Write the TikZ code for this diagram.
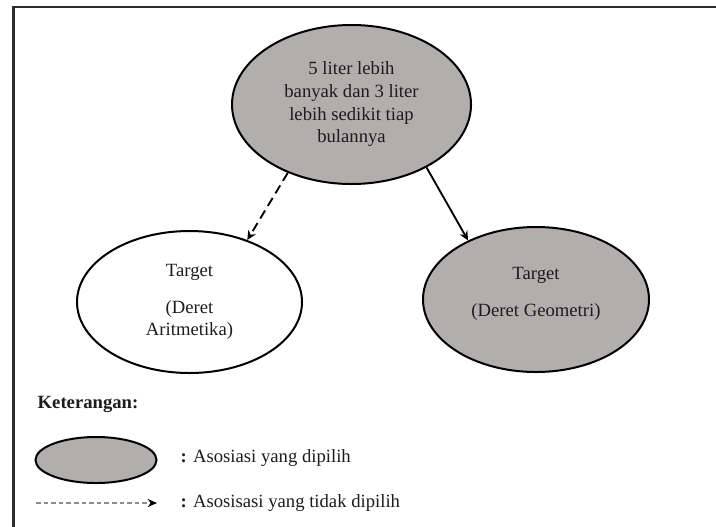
\documentclass[tikz,border=0pt]{standalone}
\usepackage{fontspec}
\setmainfont{Liberation Serif}
\usetikzlibrary{shapes.geometric,arrows.meta}
\definecolor{ovalgray}{RGB}{178,174,174}
\definecolor{inkc}{RGB}{28,28,28}
\begin{document}
\begin{tikzpicture}[x=0.75pt,y=-0.75pt,
  txt/.style={font=\fontsize{14}{17}\selectfont, text=inkc, align=center},
  oval/.style={ellipse, draw=black, line width=1.5pt, inner sep=0pt, txt},
  chosen/.style={oval, fill=ovalgray},
  unchosen/.style={oval, fill=white},
  conn/.style={line width=1.4pt, draw=black, -{Stealth[length=7pt,width=6.5pt]}},
  dashconn/.style={conn, dash pattern=on 7pt off 4pt},
  frameline/.style={line width=2.2pt, draw={rgb,255:red,45;green,45;blue,45}}]
\useasboundingbox (0,0) rectangle (716,526);
% frame (left and top edges)
\coordinate (fbl) at (13.5,530);
\coordinate (ftl) at (13.5,7);
\coordinate (ftr) at (720,7);
\draw[frameline] (fbl) -- (ftl) -- (ftr);

% ovals
\node[chosen, minimum width=179.25pt, minimum height=119.25pt] (top) at (351.5,104.5)
  {5 liter lebih\\banyak dan 3 liter\\lebih sedikit tiap\\bulannya};
\node[unchosen, minimum width=168.75pt, minimum height=106.5pt] (arit) at (189.5,302)
  {Target\\[10.75pt](Deret\\Aritmetika)};
\node[chosen, minimum width=169.5pt, minimum height=108.75pt,
  label={[txt, yshift=4.5pt]center:{Target\\[10.75pt](Deret Geometri)}}] (geo) at (536,299.5) {};

% connectors
\draw[dashconn] (top.227) -- (arit.47);
\draw[conn] (top.320) -- (geo.139);

% legend
\node[txt, font=\fontsize{14}{17}\selectfont\bfseries, anchor=west] (ket) at (33,404) {Keterangan:};
\node[chosen, minimum width=90.75pt, minimum height=34.5pt] (legoval) at (96,460) {};
\node[txt, anchor=west] (legtxt1) at (176,458) {\textbf{:} Asosiasi yang dipilih};
\coordinate (legA) at (36,503);
\coordinate (legB) at (157,503);
\draw[draw={rgb,255:red,140;green,140;blue,140}, line width=0.9pt, dash pattern=on 3.5pt off 2.2pt,
  -{Stealth[length=7pt,width=6pt,color=black,fill=black]}] (legA) -- (legB);
\node[txt, anchor=west] (legtxt2) at (176,503) {\textbf{:} Asosisasi yang tidak dipilih};
\end{tikzpicture}
\end{document}
